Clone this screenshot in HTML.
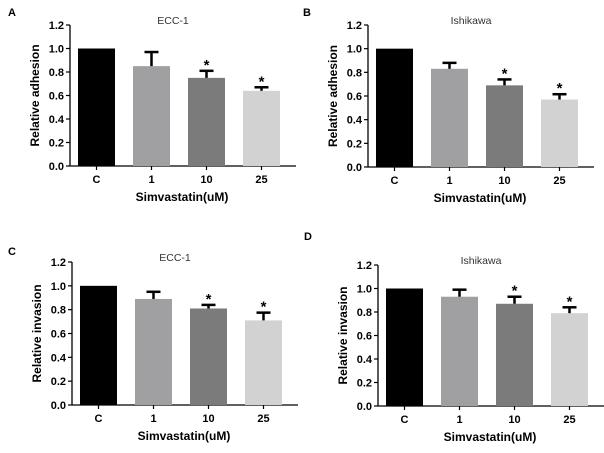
<!DOCTYPE html>
<html><head><meta charset="utf-8"><style>
body{margin:0;background:#fff;width:604px;height:448px;overflow:hidden}
text{font-family:"Liberation Sans",Arial,sans-serif}
</style></head><body>
<svg id="s" width="604" height="448" xmlns="http://www.w3.org/2000/svg"></svg>
<script>
const categories=["C","1","10","25"];
const valsA=[1.0,0.85,0.75,0.64], errA=[0,0.12,0.06,0.03];
const valsB=[1.0,0.83,0.69,0.57], errB=[0,0.05,0.05,0.045];
const valsC=[1.0,0.89,0.81,0.71], errC=[0,0.06,0.03,0.065];
const valsD=[1.0,0.93,0.87,0.79], errD=[0,0.06,0.06,0.05];
const sigs=[false,false,true,true];
const ticks=["0.0","0.2","0.4","0.6","0.8","1.0","1.2"];
const titles=["ECC-1","Ishikawa","ECC-1","Ishikawa"];
const ylabels=["Relative adhesion","Relative adhesion","Relative invasion","Relative invasion"];
const letters=["A","B","C","D"];
const colors=["#000","#a0a0a2","#7b7b7b","#d2d2d2"];
const panels=[
 {v:valsA,e:errA,ax:70,top:25,bot:166,lx:8,ly:16},
 {v:valsB,e:errB,ax:368,top:25,bot:167,lx:303,ly:16},
 {v:valsC,e:errC,ax:72,top:262,bot:405,lx:8,ly:255},
 {v:valsD,e:errD,ax:378,top:265,bot:406,lx:304,ly:240}
];
const S=document.getElementById('s');
function el(t,a,txt){const e=document.createElementNS('http://www.w3.org/2000/svg',t);for(const k in a)e.setAttribute(k,a[k]);if(txt!==undefined)e.textContent=txt;S.appendChild(e);return e;}
panels.forEach((p,pi)=>{
 const y=v=>p.bot-(v/1.2)*(p.bot-p.top);
 const bx=i=>p.ax+8+i*55;
 const bw=37;
 let e=el('text',{x:p.lx,y:p.ly,'font-size':11,'font-weight':'bold'},letters[pi]);
 
 
 e=el('line',{x1:p.ax,y1:p.top,x2:p.ax,y2:p.bot,stroke:'#000','stroke-width':1.3});
 
 
 e=el('line',{x1:p.ax,y1:p.bot,x2:p.ax+226,y2:p.bot,stroke:'#000','stroke-width':1.3});
 
 
 ticks.forEach(t=>{
  const yy=y(parseFloat(t));
  el('line',{x1:p.ax-4,y1:yy,x2:p.ax,y2:yy,stroke:'#000','stroke-width':1.2});
  e=el('text',{x:p.ax-6,y:yy+4,'font-size':11,'font-weight':'bold','text-anchor':'end'},t);
  
  
 });
 categories.forEach((c,i)=>{
  const x=bx(i),yt=y(p.v[i]);
  e=el('rect',{x:x,y:yt,width:bw,height:p.bot-yt,fill:colors[i]});
  
  
  if(p.e[i]>0){
   const ye=y(p.v[i]+p.e[i]);
   el('line',{x1:x+bw/2,y1:yt,x2:x+bw/2,y2:ye,stroke:'#000','stroke-width':2.5});
   e=el('line',{x1:x+bw/2-7,y1:ye,x2:x+bw/2+7,y2:ye,stroke:'#000','stroke-width':2.5});
   
   
   if(sigs[i]){
    e=el('text',{x:x+bw/2,y:ye-1,'font-size':15,'font-weight':'bold','text-anchor':'middle'},'*');
    
    
   }
  }
  el('line',{x1:x+bw/2,y1:p.bot,x2:x+bw/2,y2:p.bot+4,stroke:'#000','stroke-width':1.2});
  e=el('text',{x:x+bw/2,y:p.bot+17,'font-size':11,'font-weight':'bold','text-anchor':'middle'},c);
  
  
 });
 e=el('text',{x:p.ax+103,y:p.top-1,'font-size':10.5,'text-anchor':'middle',fill:'#333'},titles[pi]);
 
 
 e=el('text',{x:p.ax+112,y:p.bot+35,'font-size':12,'font-weight':'bold','text-anchor':'middle'},'Simvastatin(uM)');
 
 
 const cy=(p.top+p.bot)/2, cx=p.ax-31;
 e=el('text',{x:cx,y:cy,'font-size':12,'font-weight':'bold','text-anchor':'middle',transform:`rotate(-90 ${cx} ${cy})`},ylabels[pi]);
 
 
});
</script>
</body></html>
